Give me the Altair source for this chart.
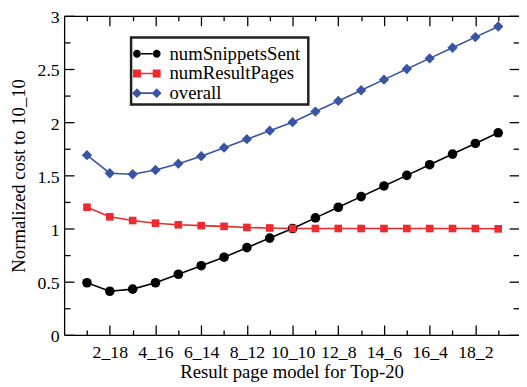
import json
import altair as alt
import pandas as pd

# ---------------- data ----------------
x_labels = ["1_19", "2_18", "3_17", "4_16", "5_15", "6_14", "7_13", "8_12", "9_11", "10_10",
            "11_9", "12_8", "13_7", "14_6", "15_5", "16_4", "17_3", "18_2", "19_1"]
snippets = [0.49, 0.41, 0.43, 0.49, 0.57, 0.65, 0.73, 0.82, 0.91, 1.00,
            1.10, 1.20, 1.30, 1.40, 1.50, 1.60, 1.70, 1.80, 1.90]
pages = [1.20, 1.11, 1.075, 1.05, 1.035, 1.027, 1.02, 1.01, 1.005, 1.00,
         1.00, 1.00, 1.00, 1.00, 1.00, 1.00, 1.00, 1.00, 0.997]
overall = [1.69, 1.52, 1.51, 1.55, 1.61, 1.68, 1.76, 1.84, 1.92, 2.00,
           2.10, 2.20, 2.30, 2.40, 2.50, 2.60, 2.70, 2.80, 2.90]
series_names = ["numSnippetsSent", "numResultPages", "overall"]
series_colors = ["#000000", "#ee2a2e", "#3a54a4"]
x_major = [2, 4, 6, 8, 10, 12, 14, 16, 18]
x_minor = [1, 3, 5, 7, 9, 11, 13, 15, 17, 19]
y_major = [0, 0.5, 1, 1.5, 2, 2.5, 3]
y_minor = [0.25, 0.75, 1.25, 1.75, 2.25, 2.75]
x_title = "Result page model for Top-20"
y_title = "Normalized cost to 10_10"

rows = []
for name, vals in zip(series_names, [snippets, pages, overall]):
    for i, v in enumerate(vals):
        rows.append({"idx": i + 1, "label": x_labels[i], "value": v, "series": name})
df = pd.DataFrame(rows)

# ---------------- style ----------------
W, H = 462, 324
FONT = "Liberation Serif, Times New Roman, DejaVu Serif, serif"
xscale = alt.Scale(domain=[0, 19.91], nice=False, zero=False)
yscale = alt.Scale(domain=[0, 3], nice=False, zero=False)
color_scale = alt.Scale(domain=series_names, range=series_colors)
label_expr = json.dumps(x_labels) + "[datum.value - 1]"


def tick_axis(orient, offset, values, size, domain=False):
    return alt.Axis(orient=orient, offset=offset, values=values, tickSize=size,
                    labels=False, domain=domain, grid=False, title=None, ticks=True)


x_axes = [
    alt.Axis(orient="bottom", values=x_major, labelExpr=label_expr, ticks=False, tickSize=0,
             labelPadding=9, labelFontSize=18, labelFlush=False, labelOverlap=False,
             labelFont=FONT, titleFont=FONT,
             domain=True, grid=False, title=x_title, titleFontSize=19, titleY=43,
             titleBaseline="alphabetic", titleFontWeight="normal"),
    tick_axis("top", -H, x_major, 10),
    tick_axis("top", -H, x_minor, 5),
    tick_axis("bottom", -H, x_major, 10, domain=True),
    tick_axis("bottom", -H, x_minor, 5),
]
y_axes = [
    alt.Axis(orient="left", values=y_major, format="~g", ticks=False, tickSize=0,
             labelPadding=5, labelOffset=2, labelFontSize=18, labelFlush=False, labelOverlap=False,
             labelFont=FONT, titleFont=FONT,
             domain=True, grid=False, title=y_title, titleFontSize=19, titleX=-46,
             titleBaseline="middle", titleFontWeight="normal"),
    tick_axis("right", -W, y_major, 10),
    tick_axis("right", -W, y_minor, 6),
    tick_axis("left", -W, y_major, 10),
    tick_axis("left", -W, y_minor, 6),
]


def X(i):
    return alt.X("idx:Q", scale=xscale, axis=x_axes[i] if i is not None else None)


def Y(i):
    return alt.Y("value:Q", scale=yscale, axis=y_axes[i] if i is not None else None)


# legend symbols (marker - line - marker), in symbol units
U = 9.5
c1, c2 = -7.5 / U, 12.5 / U


def bar(x0, x1, t):
    return f"M{x0:.3f},{-t:.3f}L{x1:.3f},{-t:.3f}L{x1:.3f},{t:.3f}L{x0:.3f},{t:.3f}Z"


def circle(cx, r):
    return (f"M{cx - r:.3f},0A{r:.3f},{r:.3f} 0 1,0 {cx + r:.3f},0"
            f"A{r:.3f},{r:.3f} 0 1,0 {cx - r:.3f},0Z")


def square(cx, h):
    return bar(cx - h, cx + h, h)


def diamond(cx, h):
    return f"M{cx - h:.3f},0L{cx:.3f},{-h:.3f}L{cx + h:.3f},0L{cx:.3f},{h:.3f}Z"


t = 0.8 / U
legend_paths = [
    circle(c1, 4 / U) + bar(c1 + 3.5 / U, c2 - 3.5 / U, t) + circle(c2, 4 / U),
    square(c1, 4 / U) + bar(c1 + 3.5 / U, c2 - 3.5 / U, t) + square(c2, 4 / U),
    diamond(c1, 5 / U) + bar(c1 + 4 / U, c2 - 4 / U, t) + diamond(c2, 5 / U),
]

# legend placement (pixels inside the plot area)
LEG_X, LEG_Y, LEG_W, LEG_H = 68, 22, 180, 68

leg = alt.Legend(orient="none", legendX=LEG_X, legendY=LEG_Y + 3, padding=4, rowPadding=0,
                 symbolStrokeWidth=0, symbolSize=361, labelOffset=16, labelFontSize=19,
                 labelFont=FONT, labelColor="black", title=None, labelLimit=0)

shapes = ["circle", "square", "diamond"]
sizes = [95, 60, 110]
line_axes = [0, 1, 2]
point_axes = [3, 4, None]

layers = []
for k in range(3):
    layers.append(
        alt.Chart(df).transform_filter(alt.datum.series == series_names[k])
        .mark_line(strokeWidth=1.6, color=series_colors[k])
        .encode(x=X(line_axes[k]), y=Y(line_axes[k]))
    )
for k in range(3):
    layers.append(
        alt.Chart(df).transform_filter(alt.datum.series == series_names[k])
        .mark_point(shape=shapes[k], filled=True, size=sizes[k], opacity=1, color=series_colors[k])
        .encode(x=X(point_axes[k]), y=Y(point_axes[k]))
    )

# frame of the legend box (drawn beneath the legend entries)
legend_box = alt.Chart(pd.DataFrame({"k": [0]})).mark_rect(
    fill="#fefefe", stroke="#202020", strokeWidth=2.5, opacity=1
).encode(
    x=alt.value(LEG_X), x2=alt.value(LEG_X + LEG_W),
    y=alt.value(LEG_Y), y2=alt.value(LEG_Y + LEG_H),
)
layers.append(legend_box)

legend_layer = alt.Chart(df).transform_filter("datum.idx > 1000").mark_point(
    filled=True, opacity=1).encode(
    x=X(None), y=Y(None),
    color=alt.Color("series:N", scale=color_scale, legend=leg),
    shape=alt.Shape("series:N", scale=alt.Scale(domain=series_names, range=legend_paths), legend=leg),
)
layers.append(legend_layer)

chart = alt.layer(*layers).resolve_axis(
    x="independent", y="independent"
).properties(
    width=W, height=H,
    autosize=alt.AutoSizeParams(type="none"),
    padding={"left": 57, "top": 5, "right": 0, "bottom": 50},
    background="white",
).configure(font=FONT).configure_view(stroke=None).configure_axis(
    domainColor="black", domainWidth=1.3, tickColor="black", tickWidth=1.3,
    labelColor="black", titleColor="black", labelFont=FONT, titleFont=FONT,
)

chart.save("out.html", embed_options={"renderer": "svg", "actions": False})
